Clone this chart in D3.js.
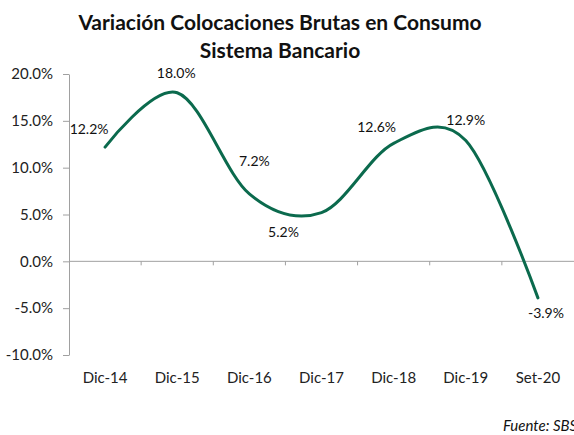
<!DOCTYPE html>
<html>
<head>
<meta charset="utf-8">
<script src="https://cdn.jsdelivr.net/npm/d3@7"></script>
<style>
  body { margin: 0; background: #fff; }
  svg { display: block; font-family: Lato, "Noto Sans", sans-serif; }
</style>
</head>
<body>
<svg id="chart"></svg>
<script>
/* Data Setup */
const categories = ["Dic-14", "Dic-15", "Dic-16", "Dic-17", "Dic-18", "Dic-19", "Set-20"];
const values = [12.2, 18.0, 7.2, 5.2, 12.6, 12.9, -3.9];
const yTicks = [-10, -5, 0, 5, 10, 15, 20];

const titleLines = ["Variación Colocaciones Brutas en Consumo", "Sistema Bancario"];
const sourceText = "Fuente: SBS";

const rows = categories.map((c, i) => ({ cat: c, value: values[i] }));

/* Chart dimensions */
const W = 574, H = 435;
const plot = { left: 69, right: 574, top: 74, bottom: 355 };

const svg = d3.select("#chart")
    .attr("width", W)
    .attr("height", H);

/* Scales */
const xScale = d3.scaleBand()
    .domain(categories)
    .range([plot.left, plot.right]);

const yScale = d3.scaleLinear()
    .domain([d3.min(yTicks), d3.max(yTicks)])
    .range([plot.bottom, plot.top]);

const xMid = d => xScale(d) + xScale.bandwidth() / 2;

/* Title */
svg.append("text")
    .attr("x", 280)
    .attr("y", 30)
    .attr("text-anchor", "middle")
    .style("font-size", "21px")
    .style("font-weight", "bold")
    .style("fill", "#111")
    .selectAll("tspan")
    .data(titleLines)
    .join("tspan")
      .attr("x", 280)
      .attr("dy", (d, i) => i === 0 ? 0 : 28)
      .text(d => d);

/* Y axis */
const yAxis = d3.axisLeft(yScale)
    .tickValues(yTicks)
    .tickSize(6)
    .tickSizeOuter(0)
    .tickPadding(10)
    .tickFormat(d => `${d.toFixed(1)}%`);

const gy = svg.append("g")
    .attr("transform", `translate(${plot.left},0)`)
    .call(yAxis);
gy.select(".domain").attr("stroke", "#a0a0a0");
gy.selectAll(".tick line").attr("stroke", "#a0a0a0");
gy.selectAll(".tick text")
    .style("font-family", "Lato, sans-serif")
    .style("font-size", "15px")
    .style("fill", "#222");

/* X axis line at zero, ticks between categories */
svg.append("line")
    .attr("x1", plot.left)
    .attr("x2", plot.right)
    .attr("y1", yScale(0))
    .attr("y2", yScale(0))
    .attr("stroke", "#a0a0a0");

svg.selectAll(".xtick")
    .data(categories.slice(1))
    .join("line")
      .attr("class", "xtick")
      .attr("x1", d => xScale(d))
      .attr("x2", d => xScale(d))
      .attr("y1", yScale(0))
      .attr("y2", yScale(0) + 4)
      .attr("stroke", "#a0a0a0");

/* X labels, placed low */
svg.selectAll(".xlabel")
    .data(categories)
    .join("text")
      .attr("class", "xlabel")
      .attr("x", d => xMid(d))
      .attr("y", 383)
      .attr("text-anchor", "middle")
      .style("font-size", "15px")
      .style("fill", "#222")
      .text(d => d);

/* Smoothed line */
const lineGenerator = d3.line()
    .x(d => xMid(d.cat))
    .y(d => yScale(d.value))
    .curve(d3.curveCardinal.tension(0));

svg.append("path")
    .datum(rows)
    .attr("fill", "none")
    .attr("stroke", "#0b6a4d")
    .attr("stroke-width", 3)
    .attr("stroke-linecap", "round")
    .attr("d", lineGenerator);

/* Data labels (manually nudged like the original) */
const labelOffsets = [[-16, -13], [-1, -15], [5, -28], [-38, 24], [-17, -11], [0, -16], [8, 20]];

svg.selectAll(".label")
    .data(rows)
    .join("text")
      .attr("class", "label")
      .attr("x", (d, i) => xMid(d.cat) + labelOffsets[i][0])
      .attr("y", (d, i) => yScale(d.value) + labelOffsets[i][1])
      .attr("text-anchor", "middle")
      .style("font-size", "14px")
      .style("fill", "#111")
      .text(d => `${d.value.toFixed(1)}%`);

/* Source (runs off the right edge as in the original) */
svg.append("text")
    .attr("x", 503)
    .attr("y", 431)
    .style("font-size", "15px")
    .style("font-style", "italic")
    .style("fill", "#111")
    .text(sourceText);
</script>
</body>
</html>
